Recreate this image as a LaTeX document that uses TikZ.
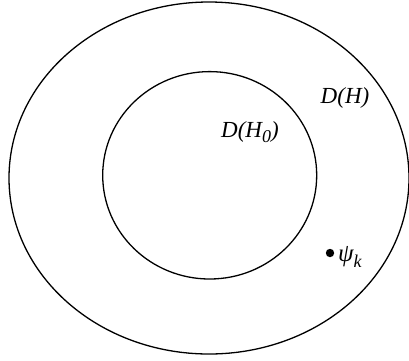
\documentclass[tikz,border=0pt]{standalone}
\usepackage{fontspec}
\setmainfont{Liberation Serif}
\begin{document}
\begin{tikzpicture}[x=1pt,y=-1pt,
  region/.style={draw=black,line width=1.3pt},
  lbl/.style={font=\fontsize{23}{26}\selectfont\itshape,inner sep=0pt}]
\useasboundingbox (0,0) rectangle (409,360);
\draw[region] (209,178) ellipse [x radius=200, y radius=176];
\draw[region] (209.7,175.3) ellipse [x radius=107, y radius=103.7];
\node[lbl] (dh) at (345,98) {D(H)};
\node[lbl] (dh0) at (250,132) {D(H\raisebox{-0.22em}{\fontsize{18}{20}\selectfont 0})};
\fill (330,253) circle [radius=4.2];
\node[lbl,anchor=west] (psi) at (338,257) {\fontsize{25}{28}\selectfont ψ\raisebox{-0.22em}{\fontsize{18}{20}\selectfont k}};
\end{tikzpicture}
\end{document}
